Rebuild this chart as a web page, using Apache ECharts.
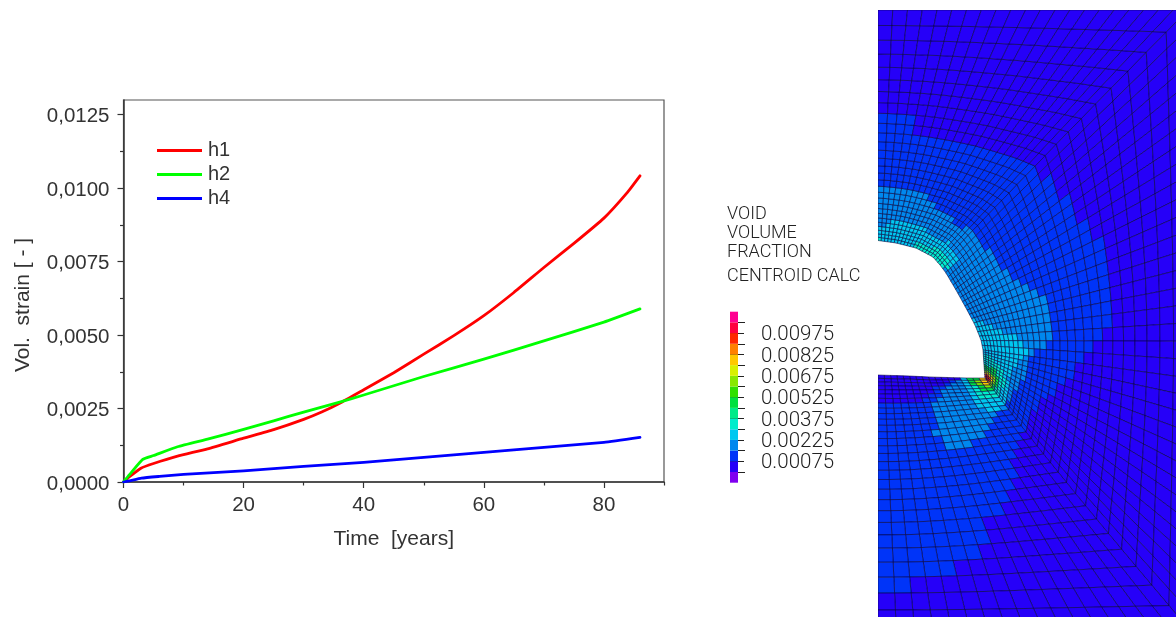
<!DOCTYPE html>
<html><head><meta charset="utf-8">
<style>html,body{margin:0;padding:0;background:#fff}#c{width:1176px;height:617px}</style>
<script src="https://cdn.jsdelivr.net/npm/echarts@6/dist/echarts.min.js"></script></head>
<body><div id="c"></div>
<script>
// ---------- line chart data ----------
const timeH1 = [0,1,2.9,5,9,14,20,25,30,33,36,40,45,50,55,60,65,70,75,80,83.8,86];
const valH1  = [0,.00018,.00047,.00063,.00088,.00113,.00149,.00178,.00213,.00238,.00268,.00314,.00372,.00435,.00498,.00566,.00645,.00730,.00812,.00898,.00983,.01042];
const timeH2 = [0,1,3.2,5,9,14,20,25,30,36,40,50,60,70,80,86];
const valH2  = [0,.00025,.00077,.00090,.00120,.00146,.00179,.00208,.00238,.00272,.00296,.00359,.00418,.00480,.00544,.00589];
const timeH4 = [0,1,3,6,10,20,30,40,50,60,70,80,86];
const valH4  = [0,.00004,.00013,.00019,.00026,.00038,.00053,.00067,.00084,.00101,.00118,.00135,.00152];
const xMajor = [0,20,40,60,80];
const xMinor = [10,30,50,70,90];
const yMajor = [0,.0025,.005,.0075,.01,.0125];
const yMinor = [.00125,.00375,.00625,.00875,.01125];
// ---------- contour legend ----------
const bandEdges = [-.00075,0,.00075,.0015,.00225,.003,.00375,.0045,.00525,.006,.00675,.0075,.00825,.009,.00975,.0105,.01125];
const bandColors = ['#8000f0','#2600f8','#0034f8','#0088ee','#00c8f0','#00eccc','#00ea88','#00e040','#30e000','#88e800','#d8f000','#ffc800','#ff8000','#ff2800','#ff0040','#ff0090'];
const legendMajor = [.00075,.00225,.00375,.00525,.00675,.00825,.00975];
const legendMinor = [0,.0015,.003,.0045,.006,.0075,.009,.0105];
const legendTitle = ['VOID','VOLUME','FRACTION','CENTROID CALC'];
// ---------- mesh outlines, in the model axes ----------
const holeUpper = [[878,240.5],[896,243],[916,248],[933,257],[940,265]];
const holeSide  = [[940,265],[946,273],[956,290],[966,308],[975,325],[981,340],[983,350]];
const holeTip   = [[983,350],[984,365],[985,378]];
const holeFloor = [[985,378],[966,378],[930,377],[909,376],[878,375]];
const outerCorners = [[878,10],[1188,10],[1188,628],[878,628]];
const meshCentre = [878,310], roundRadius = 310;
// contour regions: [band index, outline]
const regions = [
 [2,[[870,115],[911,115],[911,132],[959,140],[999,152],[1036,170],[1053,187],[1079,217],[1098,240],[1106,267],[1114,307],[1118,320],[1106,333],[1096,347],[1076,370],[1063,385],[1036,407],[1023,433],[1014,453],[1014,480],[1006,502],[989,517],[989,540],[976,558],[948,560],[948,577],[903,578],[903,597],[870,597]]],
 [1,[[870,370],[975,370],[959,379],[934,388],[919,405],[870,405]]],
 [3,[[870,185],[926,192],[936,207],[948,217],[973,233],[986,247],[1003,267],[1016,283],[1043,293],[1048,310],[1054,342],[1033,353],[1028,370],[1018,388],[1003,410],[989,425],[973,447],[956,453],[936,437],[936,420],[930,405],[945,390],[960,379],[965,340],[870,262]]],
 [4,[[870,232],[899,218],[923,228],[949,243],[959,258],[948,270],[930,262],[870,246]]],
 [4,[[970,318],[1003,332],[1023,340],[1028,352],[1018,365],[1008,378],[1010,393],[999,410],[986,412],[973,400],[963,385],[958,379],[980,370]]],
 [5,[[870,238],[880,238],[880,246],[870,246]]],
 [5,[[914,240],[945,252],[950,268],[935,265],[914,252]]],
 [5,[[985,352],[1001,367],[1006,380],[999,397],[983,400],[969,388],[964,379],[980,370]]],
 [7,[[985,364],[995,370],[1000,380],[995,390],[983,392],[973,385],[969,379],[980,372]]],
 [9,[[986,370],[993,375],[996,381],[991,387],[983,387],[976,382],[980,376]]],
 [11,[[986,373],[991,376],[993,381],[988,385],[983,383],[981,379]]],
 [13,[[986,375],[990,378],[990,382],[986,383],[983,380]]]
];
const columns = {top:21, upper:20, lower:14, floor:17};
const ringCount = 29, ringGrowth = 1.06;

function walk(poly, n){ // n+1 evenly spaced points along a polyline
  const len=[0]; for(let i=1;i<poly.length;i++) len.push(len[i-1]+Math.hypot(poly[i][0]-poly[i-1][0],poly[i][1]-poly[i-1][1]));
  const out=[]; for(let k=0;k<=n;k++){const d=len[len.length-1]*k/n; let i=1; while(i<poly.length-1&&len[i]<d)i++;
    const t=(d-len[i-1])/((len[i]-len[i-1])||1); out.push([poly[i-1][0]+t*(poly[i][0]-poly[i-1][0]),poly[i-1][1]+t*(poly[i][1]-poly[i-1][1])]);}
  return out;
}
const inner=[...walk(holeUpper,columns.top).slice(0,-1),
  ...walk(holeSide,columns.upper).slice(0,-1),
  ...walk(holeTip,columns.lower).slice(0,-1),
  ...walk(holeFloor,columns.floor)];
const midRight=[outerCorners[1][0],378];
const outer=[...walk([outerCorners[0],outerCorners[1]],columns.top).slice(0,-1),
  ...walk([outerCorners[1],midRight],columns.upper).slice(0,-1),
  ...walk([midRight,outerCorners[2]],columns.lower).slice(0,-1),
  ...walk([outerCorners[2],outerCorners[3]],columns.floor)];
const ringFrac=[0]; { let s=0,d=1; const acc=[0]; for(let j=0;j<ringCount;j++){s+=d;d*=ringGrowth;acc.push(s);} for(let j=1;j<=ringCount;j++) ringFrac[j]=acc[j]/s; }
const node=(c,r)=>{const f=ringFrac[r],w=Math.pow(f,.8),q=outer[c],dx=q[0]-meshCentre[0],dy=q[1]-meshCentre[1],
  k=roundRadius/Math.hypot(dx,dy), s=k+(1-k)*w, tx=meshCentre[0]+dx*s, ty=meshCentre[1]+dy*s;
  return [inner[c][0]+(tx-inner[c][0])*f, inner[c][1]+(ty-inner[c][1])*f];};
const inside=(p,poly)=>{let o=false;for(let i=0,j=poly.length-1;i<poly.length;j=i++){const a=poly[i],b=poly[j];
  if((a[1]>p[1])!==(b[1]>p[1])&&p[0]<(b[0]-a[0])*(p[1]-a[1])/(b[1]-a[1])+a[0])o=!o;}return o;};
const cells=[];
for(let c=0;c<inner.length-1;c++)for(let r=0;r<ringCount;r++){
  const q=[node(c,r),node(c+1,r),node(c+1,r+1),node(c,r+1)];
  const m=[(q[0][0]+q[1][0]+q[2][0]+q[3][0])/4,(q[0][1]+q[1][1]+q[2][1]+q[3][1])/4];
  let band=1; for(const [b,poly] of regions) if(inside(m,poly)) band=b;
  cells.push([c,r,band]);
}
const pair=(t,v)=>t.map((x,i)=>[x,v[i]]);
const ink='#333', sans='"Liberation Sans"', thin='Roboto';
const line=(name,color,t,v)=>({name,type:'line',xAxisIndex:0,yAxisIndex:0,data:pair(t,v),showSymbol:false,symbol:'none',smooth:.15,
  lineStyle:{color,width:2.8,cap:'round',join:'round'},itemStyle:{color},z:5});
const chart=echarts.init(document.getElementById('c'));
chart.setOption({
 animation:false,backgroundColor:'#fff',
 grid:[
  {left:123.5,top:100,width:540.5,height:382,show:true,borderColor:'#555',borderWidth:1.2,backgroundColor:'#fff'},
  {left:878,top:10,width:298,height:607},
  {left:730,top:311.7,width:8,height:171}
 ],
 legend:{data:['h1','h2','h4'],orient:'vertical',left:152,top:134,itemWidth:45,itemHeight:3,itemGap:1,icon:'path://M0 0H45V3H0Z',
  textStyle:{fontFamily:sans,fontSize:20,color:ink,padding:[0,0,0,1],lineHeight:23},selectedMode:false},
 xAxis:[
  {type:'value',gridIndex:0,min:0,max:90,position:'bottom',splitLine:{show:false},
   axisLine:{lineStyle:{color:ink,width:1.5}},axisTick:{customValues:xMajor,length:6,lineStyle:{color:ink,width:1.2}},
   axisLabel:{customValues:xMajor,margin:13,fontFamily:sans,fontSize:20.5,color:ink},
   name:'Time  [years]',nameLocation:'middle',nameGap:47,nameTextStyle:{fontFamily:sans,fontSize:21,color:ink}},
  {type:'value',gridIndex:0,min:0,max:90,position:'bottom',splitLine:{show:false},axisLine:{show:false},axisLabel:{show:false},
   axisTick:{customValues:xMinor,length:3.5,lineStyle:{color:ink,width:1.2}}},
  {type:'value',gridIndex:1,min:878,max:1176,show:false},
  {type:'value',gridIndex:2,min:0,max:1,show:false}
 ],
 yAxis:[
  {type:'value',gridIndex:0,min:0,max:.013,position:'left',splitLine:{show:false},
   axisLine:{lineStyle:{color:ink,width:1.5}},axisTick:{customValues:yMajor,length:6,lineStyle:{color:ink,width:1.2}},
   axisLabel:{customValues:yMajor,margin:14,verticalAlign:'top',lineHeight:4,fontFamily:sans,fontSize:20.5,color:ink,formatter:v=>v.toFixed(4).replace('.',',')},
   name:'Vol.  strain [ - ]',nameLocation:'middle',nameGap:90,nameRotate:90,nameTextStyle:{fontFamily:sans,fontSize:21,color:ink,padding:[0,0,0,-28]}},
  {type:'value',gridIndex:0,min:0,max:.013,position:'left',splitLine:{show:false},axisLine:{show:false},axisLabel:{show:false},
   axisTick:{customValues:yMinor,length:3.5,lineStyle:{color:ink,width:1.2}}},
  {type:'value',gridIndex:1,min:10,max:617,inverse:true,show:false},
  {type:'value',gridIndex:2,min:-.00075,max:.01125,position:'right',splitLine:{show:false},axisLine:{show:false},
   axisTick:{customValues:legendMajor,length:14,lineStyle:{color:'#222',width:1}},
   axisLabel:{customValues:legendMajor,margin:23,verticalAlign:'top',lineHeight:4,fontFamily:thin,fontWeight:300,fontSize:20.5,color:'#222',formatter:v=>v.toFixed(5)}},
  {type:'value',gridIndex:2,min:-.00075,max:.01125,position:'right',splitLine:{show:false},axisLine:{show:false},axisLabel:{show:false},
   axisTick:{customValues:legendMinor,length:7,lineStyle:{color:'#222',width:1}}}
 ],
 series:[
  line('h1','#ff0000',timeH1,valH1),line('h2','#00ff00',timeH2,valH2),line('h4','#0000ff',timeH4,valH4),
  {type:'custom',xAxisIndex:2,yAxisIndex:2,coordinateSystem:'cartesian2d',clip:true,data:cells,silent:true,
   renderItem:(p,api)=>{const c=api.value(0),r=api.value(1),b=api.value(2);
     const pts=[node(c,r),node(c+1,r),node(c+1,r+1),node(c,r+1)].map(n=>api.coord(n));
     return {type:'polygon',shape:{points:pts},style:{fill:bandColors[b],stroke:'rgba(5,0,60,.7)',lineWidth:.8}};}},
  {type:'custom',xAxisIndex:3,yAxisIndex:3,coordinateSystem:'cartesian2d',silent:true,
   data:bandColors.map((_,i)=>[i,bandEdges[i],bandEdges[i+1]]),
   renderItem:(p,api)=>{const a=api.coord([0,api.value(1)]),b=api.coord([1,api.value(2)]);
     return {type:'rect',shape:{x:a[0],y:b[1],width:b[0]-a[0],height:a[1]-b[1]},style:{fill:bandColors[api.value(0)]}};}}
 ],
 graphic:legendTitle.map((t,i)=>({type:'text',left:727,top:[205,224,243,267][i],
   style:{text:t,fontFamily:thin,fontWeight:300,fontSize:18,fill:'#222'}}))
});
</script></body></html>
